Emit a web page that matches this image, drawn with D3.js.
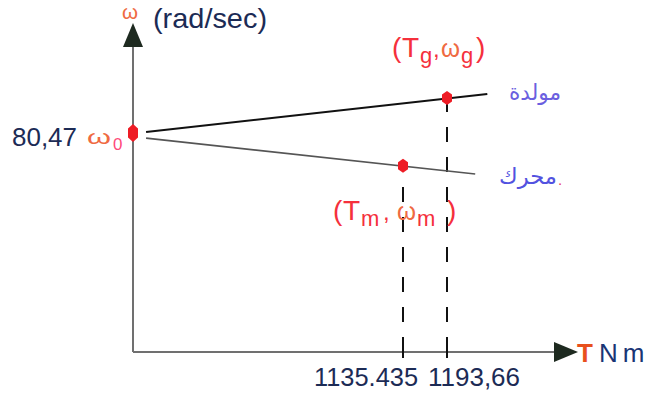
<!DOCTYPE html>
<html>
<head>
<meta charset="utf-8">
<script src="https://cdn.jsdelivr.net/npm/d3@7"></script>
<style>
  html, body { margin: 0; padding: 0; background: #fff; }
  svg { display: block; }
  text { font-family: "Liberation Sans", Arial, sans-serif; }
  .ar { font-family: "DejaVu Sans", sans-serif; }
</style>
</head>
<body>
<svg id="chart" width="650" height="395"></svg>
<script>
// Torque values marked on the T axis, and their printed labels
const torqueTicks = [1135.435, 1193.66];
const torqueTickLabels = ["1135.435", "1193,66"];

// No-load speed (rad/sec)
const omega0 = 80.47;
const omega0Label = "80,47";

// Operating points: motor (Tm, ωm) and generator (Tg, ωg)
const pointNames = ["motor", "generator"];
const pointTorque = [1135.435, 1193.66];
const pointOmega = [68.4, 93.3];

// Characteristic lines (torque, speed)
const generatorLineT = [55, 1247];
const generatorLineW = [80.8, 94.8];
const motorLineT = [55, 1231];
const motorLineW = [78.6, 65.4];

const svg = d3.select("#chart");

const origin = { x: 133, y: 352 };

// Schematic torque scale: the axis is broken between 0 and the marked torques
const x = d3.scaleLinear()
  .domain([0, torqueTicks[0], torqueTicks[1]])
  .range([origin.x, 403, 447]);

const y = d3.scaleLinear()
  .domain([0, omega0])
  .range([origin.y, 133]);

const axisColor = "#707070";
const arrowColor = "#1e2a20";

// ---- axes with arrow heads ----
svg.append("line")
  .attr("x1", origin.x).attr("y1", origin.y)
  .attr("x2", origin.x).attr("y2", 46)
  .attr("stroke", axisColor).attr("stroke-width", 2);
svg.append("path")
  .attr("d", d3.line()([[origin.x - 10, 47], [origin.x, 23], [origin.x + 10, 47]]) + "Z")
  .attr("fill", arrowColor);

svg.append("line")
  .attr("x1", origin.x).attr("y1", origin.y)
  .attr("x2", 556).attr("y2", origin.y)
  .attr("stroke", axisColor).attr("stroke-width", 2);
svg.append("path")
  .attr("d", d3.line()([[554, origin.y - 10], [578, origin.y], [554, origin.y + 10]]) + "Z")
  .attr("fill", arrowColor);

// tick marks at the marked torques
svg.selectAll(".tick")
  .data(torqueTicks)
  .join("line")
  .attr("x1", d => x(d)).attr("x2", d => x(d))
  .attr("y1", origin.y - 6).attr("y2", origin.y + 6)
  .attr("stroke", "#111").attr("stroke-width", 2);

// ---- dashed projections from operating points down to the T axis ----
svg.selectAll(".proj")
  .data(d3.range(pointTorque.length))
  .join("line")
  .attr("x1", i => x(pointTorque[i])).attr("x2", i => x(pointTorque[i]))
  .attr("y1", origin.y).attr("y2", i => y(pointOmega[i]) + 6)
  .attr("stroke", "#111").attr("stroke-width", 2)
  .attr("stroke-dasharray", "15,15");

// ---- characteristic lines ----
const lineGen = d3.line().x(d => x(d[0])).y(d => y(d[1]));
svg.append("path")
  .attr("d", lineGen(d3.zip(generatorLineT, generatorLineW)))
  .attr("fill", "none").attr("stroke", "#111").attr("stroke-width", 2);
svg.append("path")
  .attr("d", lineGen(d3.zip(motorLineT, motorLineW)))
  .attr("fill", "none").attr("stroke", "#555").attr("stroke-width", 1.6);

// ---- red point markers ----
function marker(w, h) {
  return d3.line()([[0, -h / 2], [w / 2, -h / 4], [w / 2, h / 4], [0, h / 2], [-w / 2, h / 4], [-w / 2, -h / 4]]) + "Z";
}
const red = "#ee1c25";
svg.append("path")
  .attr("d", marker(10, 18))
  .attr("transform", `translate(${x(0)},${y(omega0)})`)
  .attr("fill", red);
svg.selectAll(".pt")
  .data(d3.range(pointTorque.length))
  .join("path")
  .attr("d", marker(10, 14))
  .attr("transform", i => `translate(${x(pointTorque[i])},${y(pointOmega[i])})`)
  .attr("fill", red);

// ---- tick labels ----
const navy = "#1c2b55";
svg.append("text")
  .attr("x", x(torqueTicks[0]) - 89).attr("y", 386)
  .attr("font-size", 25).attr("fill", navy)
  .attr("textLength", 104).attr("lengthAdjust", "spacingAndGlyphs")
  .text(torqueTickLabels[0]);
svg.append("text")
  .attr("x", x(torqueTicks[1]) - 19).attr("y", 386)
  .attr("font-size", 25).attr("fill", navy)
  .attr("textLength", 92).attr("lengthAdjust", "spacingAndGlyphs")
  .text(torqueTickLabels[1]);

// speed label with the ω0 symbol
const orange = "#ef6a42";
const w0 = svg.append("text").attr("fill", navy);
w0.append("tspan")
  .attr("x", 12).attr("y", y(omega0) + 13)
  .attr("font-size", 25)
  .attr("textLength", 65).attr("lengthAdjust", "spacingAndGlyphs")
  .text(omega0Label);
w0.append("tspan")
  .attr("x", 87).attr("y", y(omega0) + 11)
  .attr("font-size", 21).attr("fill", orange)
  .attr("textLength", 24).attr("lengthAdjust", "spacingAndGlyphs")
  .text("ω");
w0.append("tspan")
  .attr("x", 113).attr("y", y(omega0) + 17)
  .attr("font-size", 17).attr("fill", "#ff4a7a")
  .text("0");

// ---- axis titles ----
const yTitle = svg.append("text").attr("fill", navy);
yTitle.append("tspan")
  .attr("x", 122).attr("y", 19)
  .attr("font-size", 21).attr("fill", orange)
  .attr("textLength", 16).attr("lengthAdjust", "spacingAndGlyphs")
  .text("ω");
yTitle.append("tspan")
  .attr("x", 153).attr("y", 28)
  .attr("font-size", 28)
  .attr("textLength", 114).attr("lengthAdjust", "spacingAndGlyphs")
  .text("(rad/sec)");

const xTitle = svg.append("text").attr("y", origin.y + 10).attr("font-size", 26);
xTitle.append("tspan")
  .attr("x", 577)
  .attr("font-weight", "bold").attr("fill", "#e8501c")
  .text("T");
xTitle.append("tspan")
  .attr("x", 599)
  .attr("fill", "#1a3575").attr("letter-spacing", 5)
  .text("Nm");

// ---- operating-point labels ----
const lblRed = "#f5303c";
function pointLabel(x0, base, sub, xs, size) {
  const parts = [
    { t: "(", dx: xs[0], dy: 0, s: size, c: lblRed },
    { t: "T", dx: xs[1], dy: 0, s: size, c: lblRed },
    { t: sub, dx: xs[2], dy: 6, s: 22, c: lblRed },
    { t: ",", dx: xs[3], dy: 0, s: 24, c: lblRed },
    { t: "ω", dx: xs[4], dy: 0, s: 25, c: orange, w: 19 },
    { t: sub, dx: xs[5], dy: 6, s: 22, c: lblRed },
    { t: ")", dx: xs[6], dy: 0, s: size, c: lblRed }
  ];
  svg.append("text")
    .selectAll("tspan").data(parts).join("tspan")
    .attr("x", d => x0 + d.dx).attr("y", d => base + d.dy)
    .attr("font-size", d => d.s).attr("fill", d => d.c)
    .attr("textLength", d => d.w || null)
    .attr("lengthAdjust", d => d.w ? "spacingAndGlyphs" : null)
    .text(d => d.t);
}
pointLabel(392, 57, "g", [0, 10, 28, 41, 49, 69, 84], 28);
pointLabel(333, 220, "m", [0, 10, 28, 50, 64, 84, 114], 28);

// ---- Arabic line names ----
svg.append("text")
  .attr("class", "ar")
  .attr("x", 561).attr("y", 100)
  .attr("text-anchor", "end")
  .attr("font-size", 22).attr("fill", "#6b5fe0")
  .attr("textLength", 52).attr("lengthAdjust", "spacingAndGlyphs")
  .text("مولدة");
svg.append("text")
  .attr("class", "ar")
  .attr("x", 557).attr("y", 184)
  .attr("text-anchor", "end")
  .attr("font-size", 22).attr("fill", "#5252e0")
  .attr("textLength", 58).attr("lengthAdjust", "spacingAndGlyphs")
  .text("محرك");
svg.append("text")
  .attr("x", 558).attr("y", 185)
  .attr("font-size", 15).attr("fill", "#e8406a")
  .text(".");
</script>
</body>
</html>
